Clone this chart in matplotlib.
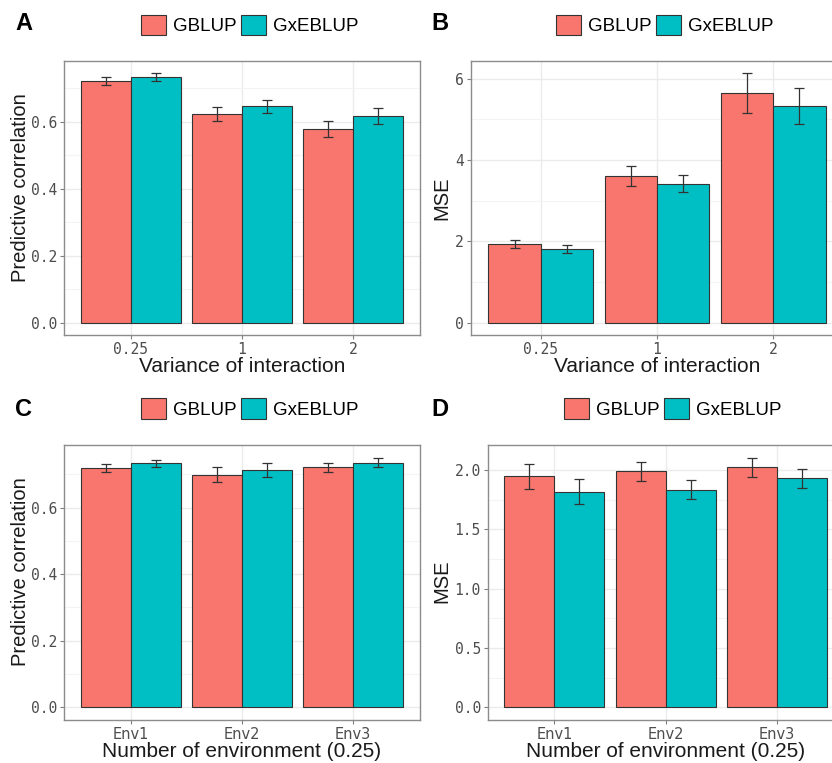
import numpy as np
import matplotlib.pyplot as plt
from matplotlib.patches import Patch

# categories
variance_levels = ["0.25", "1", "2"]
env_levels = ["Env1", "Env2", "Env3"]
methods = ["GBLUP", "GxEBLUP"]

# panel A: predictive correlation by variance of interaction
corr_var_gblup = [0.721, 0.622, 0.578]
corr_var_gblup_err = [0.013, 0.020, 0.025]
corr_var_gxe = [0.732, 0.646, 0.616]
corr_var_gxe_err = [0.0115, 0.0195, 0.0235]

# panel B: MSE by variance of interaction
mse_var_gblup = [1.935, 3.61, 5.64]
mse_var_gblup_err = [0.105, 0.245, 0.49]
mse_var_gxe = [1.82, 3.42, 5.33]
mse_var_gxe_err = [0.10, 0.215, 0.45]

# panel C: predictive correlation by environment
corr_env_gblup = [0.720, 0.699, 0.721]
corr_env_gblup_err = [0.012, 0.0225, 0.013]
corr_env_gxe = [0.733, 0.713, 0.735]
corr_env_gxe_err = [0.011, 0.0215, 0.0145]

# panel D: MSE by environment
mse_env_gblup = [1.946, 1.988, 2.022]
mse_env_gblup_err = [0.104, 0.077, 0.081]
mse_env_gxe = [1.818, 1.835, 1.930]
mse_env_gxe_err = [0.104, 0.0815, 0.081]

colors = ["#F8766D", "#00BFC4"]

W, H = 832, 763
fig = plt.figure(figsize=(W / 100, H / 100), dpi=100)


def px_axes(l, t, r, b):
    return fig.add_axes([l / W, 1 - b / H, (r - l) / W, (b - t) / H])


def panel(ax, cats, g, ge, x, xe, ylabel, xlabel, yticks, ytlabels,
          tick_font, ylab_pos):
    pos = np.arange(len(cats))
    w = 0.45
    for vals, errs, off, c in [(g, ge, -w / 2, colors[0]), (x, xe, w / 2, colors[1])]:
        ax.bar(pos + off, vals, width=w, color=c, edgecolor="#333333",
               linewidth=0.8, zorder=3)
        ax.errorbar(pos + off, vals, yerr=errs, fmt="none", ecolor="#333333",
                    elinewidth=0.9, capsize=3.6, capthick=0.9, zorder=4)
    ax.set_xticks(pos)
    ax.set_xticklabels(cats, **tick_font)
    ax.set_yticks(yticks)
    ax.set_yticklabels(ytlabels, family="DejaVu Sans Mono", fontsize=10.5,
                       color="#4D4D4D")
    minor = [(yticks[i] + yticks[i + 1]) / 2 for i in range(len(yticks) - 1)]
    minor.append(yticks[-1] + (yticks[1] - yticks[0]) / 2)
    ax.set_yticks(minor, minor=True)
    # ggplot-like 5% expansion
    top = max(max(np.add(g, ge)), max(np.add(x, xe)))
    pad = top * 0.05
    ax.set_ylim(-pad, top + pad)
    ax.set_xlim(-0.6, len(cats) - 0.4)
    ax.tick_params(axis="y", which="minor", length=0)
    ax.tick_params(axis="both", which="major", length=3, color="#7F7F7F",
                   width=0.8, pad=2)
    ax.grid(True, which="major", color="#EBEBEB", linewidth=1.0, zorder=0)
    ax.grid(True, which="minor", axis="y", color="#F4F4F4", linewidth=0.8, zorder=0)
    ax.set_axisbelow(True)
    for s in ax.spines.values():
        s.set_color("#8C8C8C")
        s.set_linewidth(1.0)
    ax.set_ylabel(ylabel, fontsize=14.5, family="Liberation Sans", color="#1A1A1A")
    ax.set_xlabel(xlabel, fontsize=15, family="Liberation Sans", color="#1A1A1A")
    ax.yaxis.set_label_coords(*ylab_pos)
    ax.xaxis.set_label_coords(0.5, -0.082)


def legend_at(cx, cy):
    handles = [Patch(facecolor=c, edgecolor="#333333", linewidth=0.8) for c in colors]
    fig.legend(handles, methods, loc="center", bbox_to_anchor=(cx / W, 1 - cy / H),
               ncol=2, frameon=False, prop={"family": "Liberation Sans", "size": 13.5},
               handlelength=1.3, handleheight=1.3, handletextpad=0.4,
               columnspacing=0.25, borderaxespad=0, borderpad=0)


var_font = dict(family="DejaVu Sans Mono", fontsize=10.5, color="#4D4D4D")
env_font = dict(family=["Liberation Sans Narrow", "DejaVu Sans"], fontsize=10.5,
                color="#4D4D4D")

axA = px_axes(64, 61, 419.5, 335)
panel(axA, variance_levels, corr_var_gblup, corr_var_gblup_err, corr_var_gxe,
      corr_var_gxe_err, "Predictive correlation", "Variance of interaction",
      [0.0, 0.2, 0.4, 0.6], ["0.0", "0.2", "0.4", "0.6"], var_font, (-0.096, 0.538))

axB = px_axes(471, 61, 843, 335)
panel(axB, variance_levels, mse_var_gblup, mse_var_gblup_err, mse_var_gxe,
      mse_var_gxe_err, "MSE", "Variance of interaction",
      [0, 2, 4, 6], ["0", "2", "4", "6"], var_font, (-0.052, 0.5))

axC = px_axes(64, 445.3, 419.5, 719.7)
panel(axC, env_levels, corr_env_gblup, corr_env_gblup_err, corr_env_gxe,
      corr_env_gxe_err, "Predictive correlation", "Number of environment (0.25)",
      [0.0, 0.2, 0.4, 0.6], ["0.0", "0.2", "0.4", "0.6"], env_font, (-0.096, 0.538))

axD = px_axes(487.7, 445.3, 843.5, 719.7)
panel(axD, env_levels, mse_env_gblup, mse_env_gblup_err, mse_env_gxe,
      mse_env_gxe_err, "MSE", "Number of environment (0.25)",
      [0.0, 0.5, 1.0, 1.5, 2.0], ["0.0", "0.5", "1.0", "1.5", "2.0"],
      env_font, (-0.101, 0.503))

legend_at(250, 25)
legend_at(665, 25)
legend_at(250, 408.7)
legend_at(673, 408.7)

for lab, x, y in [("A", 24, 24), ("B", 440, 24), ("C", 24, 410), ("D", 440, 410)]:
    fig.text(x / W, 1 - y / H, lab, fontsize=17, fontweight="bold",
             family="Liberation Sans", ha="center", va="center")

fig.savefig("out.png", dpi=100)
